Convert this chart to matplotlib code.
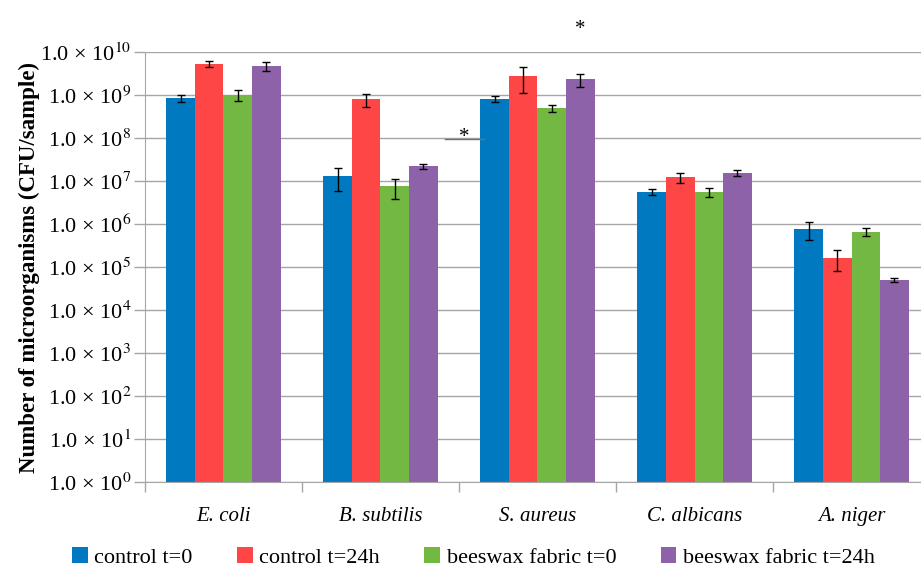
import numpy as np
import matplotlib.pyplot as plt

# values (CFU/sample)
species = ["E. coli", "B. subtilis", "S. aureus", "C. albicans", "A. niger"]
series = ["control t=0", "control t=24h", "beeswax fabric t=0", "beeswax fabric t=24h"]
colors = ["#0079C1", "#FF4646", "#72B843", "#8E62A8"]

ctrl_0 = [8.4e8, 1.3e7, 8.1e8, 5.6e6, 7.8e5]
ctrl_24 = [5.3e9, 7.9e8, 2.8e9, 1.23e7, 1.65e5]
wax_0 = [1.0e9, 7.5e6, 5.0e8, 5.6e6, 6.7e5]
wax_24 = [4.8e9, 2.2e7, 2.3e9, 1.54e7, 5.0e4]

ctrl_0_err = [1.4e8, 7e6, 1.3e8, 0.9e6, 3.5e5]
ctrl_24_err = [0.8e9, 2.7e8, 1.7e9, 3.3e6, 8.5e4]
wax_0_err = [2.8e8, 3.7e6, 1.0e8, 1.3e6, 1.4e5]
wax_24_err = [1.2e9, 3e6, 0.8e9, 2.5e6, 6e3]

ytick_exp = list(range(0, 11))

plt.rcParams['font.family'] = ['Liberation Serif', 'DejaVu Serif']
plt.rcParams['mathtext.fontset'] = 'stix'

fig = plt.figure(figsize=(9.21, 5.72), dpi=100)
ax = fig.add_axes([0.1574, 0.1573, 0.8524, 0.7517])

vals = [ctrl_0, ctrl_24, wax_0, wax_24]
errs = [ctrl_0_err, ctrl_24_err, wax_0_err, wax_24_err]
x = np.arange(len(species))
w = 0.182
for i in range(4):
    pos = x + (i - 1.5) * w
    ax.bar(pos, vals[i], width=w, color=colors[i], label=series[i], zorder=2)
    ax.errorbar(pos, vals[i], yerr=errs[i], fmt='none', ecolor='black',
                elinewidth=1.0, capsize=2.8, capthick=1.0, zorder=3)

ax.set_yscale('log')
ax.set_ylim(1, 1e10)
ax.set_xlim(-0.5, len(species) - 0.5)
ax.set_yticks([10.0 ** e for e in ytick_exp])
ax.set_yticklabels([r"1.0 × 10$^{%d}$" % e for e in ytick_exp], fontsize=16)
ax.yaxis.set_minor_locator(plt.NullLocator())
ax.grid(axis='y', color='#a6a6a6', linewidth=1.0, zorder=0)
ax.set_axisbelow(True)

# category labels centered, tick marks at boundaries
ax.set_xticks(x)
ax.set_xticklabels(species, fontsize=15, style='italic')
ax.tick_params(axis='x', length=0, pad=18)
ax.set_xticks(np.arange(len(species) + 1) - 0.5, minor=True)
ax.tick_params(axis='x', which='minor', length=7, color='#a6a6a6', width=1)
ax.tick_params(axis='y', length=8, color='#a6a6a6', width=1, pad=2)

for s in ['top', 'right']:
    ax.spines[s].set_visible(False)
ax.spines['left'].set_color('#a6a6a6')
ax.spines['bottom'].set_color('#a6a6a6')

ax.set_ylabel("Number of microorganisms (CFU/sample)", fontsize=16.5,
              fontweight='bold', labelpad=0)

# significance marks
ax.plot([1.41, 1.66], [0.95e8, 0.95e8], color='#707070', lw=1.0, zorder=3)
ax.text(1.535, 6.2e7, "*", ha='center', va='bottom', fontsize=15)
ax.text(2.27, 3.4e10, "*", ha='center', va='center', fontsize=15, clip_on=False)

leg = fig.legend(loc='lower center', bbox_to_anchor=(0.514, -0.028), ncol=4,
                 frameon=False, fontsize=16, handlelength=0.7, handleheight=0.7,
                 handletextpad=0.3, columnspacing=2.0)

fig.savefig("out.png", dpi=100)
